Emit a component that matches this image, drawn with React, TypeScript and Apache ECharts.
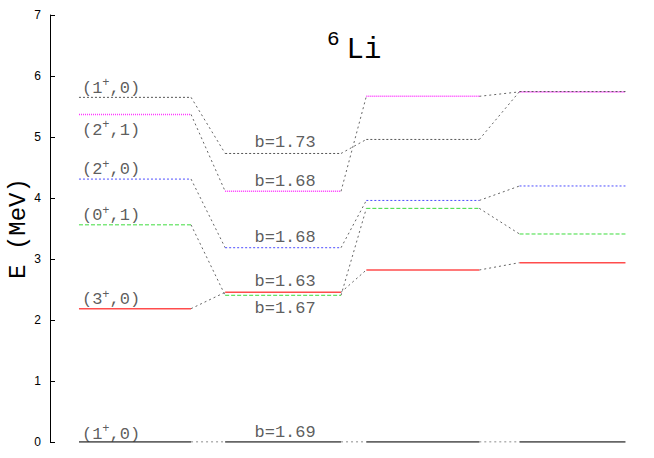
import React, { useEffect, useRef } from 'react';
import * as echarts from 'echarts';

// States, ordered from the ground state up
const stateLabels = ['(1{s|+},0)', '(3{s|+},0)', '(0{s|+},1)', '(2{s|+},0)', '(2{s|+},1)', '(1{s|+},0)'];
const expLevels = [0, 2.186, 3.56, 4.31, 5.37, 5.65];
const bLevels = [0, 2.454, 2.405, 3.185, 4.11, 4.73];
const col3Levels = [0, 2.82, 3.83, 3.96, 5.667, 4.96];
const col4Levels = [0, 2.94, 3.41, 4.197, 5.74, 5.745];
const bValues = ['1.69', '1.63', '1.67', '1.68', '1.68', '1.73'];
const yTicks = [0, 1, 2, 3, 4, 5, 6, 7];

// layout
const colCenter = [0, 1.012, 1.967, 2.99];
const halfW = [0.383, 0.396, 0.386, 0.362];
const expOffset = [-8, -9, -9, -9.5, 16, -9];
const bOffset = [-10, -11, 13, -10, -10, -11];
const styleColors = ['#333333', '#ff4d4d', '#3ddc3d', '#4d4dff', '#ff33ff', '#555555'];
const styleDash: any[] = ['solid', 'solid', [4, 2], [2, 2], [1, 1], [2, 2]];
const styleWidth = [1.5, 1.5, 1, 1, 1.6, 1];

export default function App() {
  const ref = useRef<HTMLDivElement>(null);
  useEffect(() => {
    if (!ref.current) return;
    const chart = echarts.init(ref.current, null, { renderer: 'svg' });
    const columns = [expLevels, bLevels, col3Levels, col4Levels];
    const series: any[] = [];
    // connectors first (underneath)
    stateLabels.forEach((_, s) => {
      columns.forEach((col, c) => {
        if (c < columns.length - 1) {
          const next = columns[c + 1];
          series.push({
            id: `conn-${s}-${c}`,
            type: 'line',
            symbol: 'none',
            silent: true,
            z: 1,
            color: '#666666',
            lineStyle: { color: '#666666', type: [2, 3], width: 1 },
            data: [
              [colCenter[c] + halfW[c], col[s]],
              [colCenter[c + 1] - halfW[c + 1], next[s]],
            ],
          });
        }
      });
    });
    stateLabels.forEach((_, s) => {
      columns.forEach((col, c) => {
        const dash = styleDash[s];
        series.push({
          id: `level-${s}-${c}`,
          type: 'line',
          symbol: 'none',
          silent: true,
          z: 2 + s,
          color: styleColors[s],
          lineStyle: {
            color: styleColors[s],
            type: Array.isArray(dash) ? dash.slice() : dash,
            width: styleWidth[s],
          },
          data: [
            [colCenter[c] - halfW[c], col[s]],
            [colCenter[c] + halfW[c], col[s]],
          ],
        });
      });
    });
    const labelFont = {
      fontFamily: 'Liberation Mono',
      fontSize: 17,
      fontWeight: 'normal',
      color: '#333',
    };
    series.push({
      id: 'expLabels',
      type: 'scatter',
      symbolSize: 0,
      silent: true,
      z: 10,
      data: stateLabels.map((t, s) => ({
        value: [colCenter[0] - halfW[0], expLevels[s]],
        label: { offset: [3, expOffset[s]], formatter: t },
      })),
      label: {
        show: true,
        position: 'inside',
        align: 'left',
        verticalAlign: 'middle',
        ...labelFont,
        lineHeight: 22,
        rich: { s: { fontFamily: 'Liberation Mono', fontSize: 12, lineHeight: 12, verticalAlign: 'top', color: '#333' } },
      },
    });
    series.push({
      id: 'bLabels',
      type: 'scatter',
      symbolSize: 0,
      silent: true,
      z: 10,
      data: bValues.map((b, s) => ({
        value: [colCenter[1], bLevels[s]],
        label: { offset: [2, bOffset[s]], formatter: 'b=' + b },
      })),
      label: {
        show: true,
        position: 'inside',
        align: 'center',
        verticalAlign: 'middle',
        ...labelFont,
      },
    });
    chart.setOption({
      animation: false,
      title: {
        text: '{s|6}{m|Li}',
        left: 327,
        top: 29,
        padding: 0,
        textStyle: {
          fontFamily: 'Liberation Mono',
          fontWeight: 'normal',
          rich: {
            s: { fontFamily: 'Liberation Mono', fontWeight: 'normal', fontSize: 21, lineHeight: 14, verticalAlign: 'top', color: '#000', padding: [0, 7, 0, 0] },
            m: { fontFamily: 'Liberation Mono', fontWeight: 'normal', fontSize: 29, lineHeight: 42, color: '#000' },
          },
        },
      },
      grid: { left: 50, right: 0, top: 15, bottom: 16, containLabel: false, outerBoundsMode: 'none' },
      xAxis: {
        type: 'value',
        min: -0.581,
        max: 3.547,
        show: false,
      },
      yAxis: {
        type: 'value',
        min: yTicks[0],
        max: yTicks[yTicks.length - 1],
        interval: 1,
        name: 'E (MeV)',
        nameLocation: 'middle',
        nameGap: 20,
        nameMoveOverlap: false,
        nameTextStyle: { fontFamily: 'Liberation Mono', fontSize: 24, color: '#000' },
        axisLine: { show: true, onZero: false, lineStyle: { color: '#000', width: 1 } },
        axisTick: { show: true, inside: true, length: 5, lineStyle: { color: '#000' } },
        axisLabel: { margin: 9, fontFamily: 'Liberation Sans', fontSize: 12, color: '#000' },
        splitLine: { show: false },
      },
      series,
    });
    return () => chart.dispose();
  }, []);
  return <div ref={ref} style={{ width: 654, height: 458, position: 'absolute', left: 0, top: 0 }} />;
}
